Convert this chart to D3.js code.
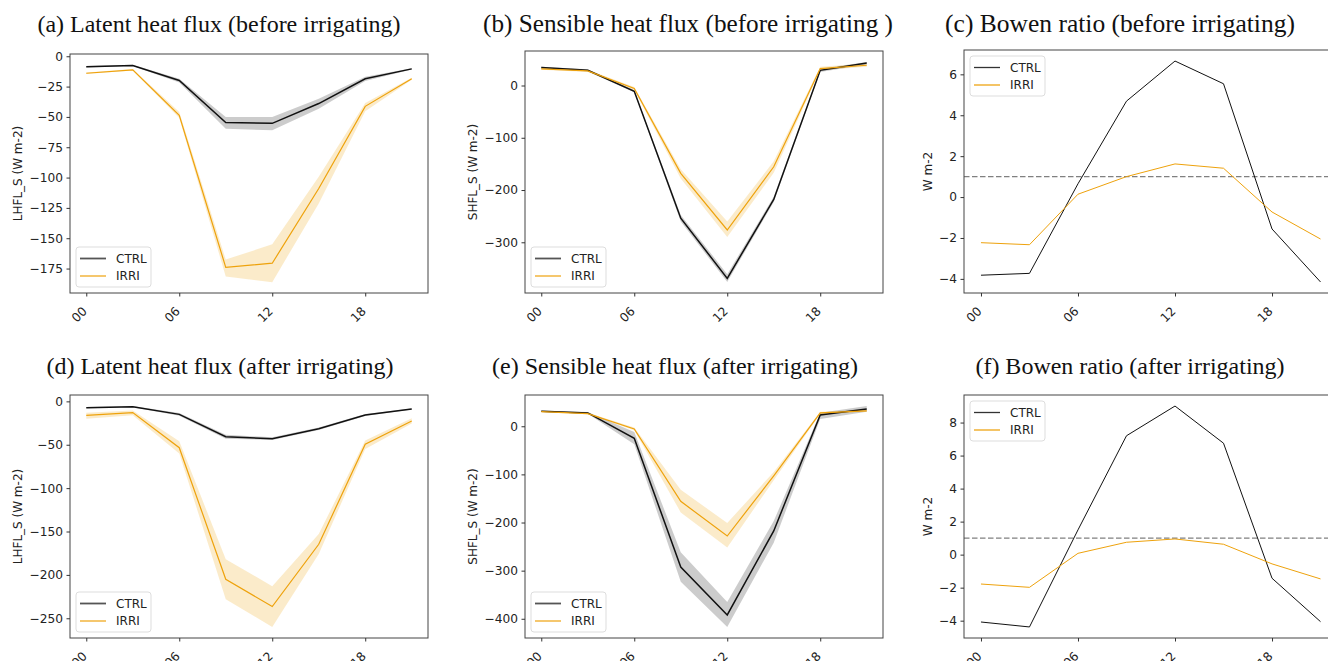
<!DOCTYPE html>
<html>
<head>
<meta charset="utf-8">
<script src="https://cdn.jsdelivr.net/npm/d3@7"></script>
<style>
  body { margin: 0; background: #fff; }
  svg { display: block; }
  .tick text { font-family: "DejaVu Sans", sans-serif; font-size: 12.2px; fill: #222; }
  .ylab { font-family: "DejaVu Sans", sans-serif; font-size: 12px; fill: #222; }
  .title { font-family: "Liberation Serif", "Times New Roman", serif; fill: #111; }
  .leg text { font-family: "DejaVu Sans", sans-serif; font-size: 12px; fill: #222; }
</style>
</head>
<body>
<script>

	// hours of the day (3-hourly)
	var hours = [0, 3, 6, 9, 12, 15, 18, 21];
	var xTickVals = [0, 6, 12, 18];
	var xTickLabels = ["00", "06", "12", "18"];

	// (a) latent heat flux, before irrigating
	var aCtrl   = [-8.7, -7.6, -20, -54.7, -55.3, -39, -18.6, -10.4];
	var aCtrlLo = [-9.3, -8.1, -21.6, -59.7, -61, -43.2, -20.5, -11];
	var aCtrlHi = [-8.1, -7.1, -18.5, -50.1, -50.1, -35, -17, -9.8];
	var aIrri   = [-14, -11.2, -48.7, -174, -170.6, -109, -41.3, -18.6];
	var aIrriLo = [-14.6, -11.8, -51, -181.5, -186.2, -121.3, -45.4, -19.4];
	var aIrriHi = [-13.4, -10.6, -46, -167.6, -155, -99.4, -38.5, -17.8];

	// (b) sensible heat flux, before irrigating
	var bCtrl   = [34.4, 29, -10.9, -254, -369, -218, 29, 43];
	var bCtrlLo = [32.5, 27, -13, -260, -376, -223, 26, 40];
	var bCtrlHi = [36, 31, -9, -248, -361, -213, 32, 45];
	var bIrri   = [31.8, 28, -5.8, -168, -276.5, -155.5, 32.5, 38.8];
	var bIrriLo = [30, 26, -8.5, -178, -290, -167, 29, 36];
	var bIrriHi = [33.5, 30, -3, -160, -260, -145, 36, 42];

	// (c) bowen ratio, before irrigating
	var cCtrl = [-3.82, -3.73, 0.65, 4.69, 6.65, 5.54, -1.56, -4.15];
	var cIrri = [-2.23, -2.33, 0.14, 1.0, 1.62, 1.41, -0.73, -2.05];

	// (d) latent heat flux, after irrigating
	var dCtrl   = [-7.3, -6.1, -15, -40.7, -43, -31.5, -15.8, -8.8];
	var dCtrlLo = [-8, -6.8, -16.5, -43, -44.5, -33, -17, -9.5];
	var dCtrlHi = [-6.6, -5.4, -13.5, -38.5, -41.5, -30, -14.6, -8.1];
	var dIrri   = [-16.1, -13, -53.4, -205, -236.5, -164.7, -49.5, -22.7];
	var dIrriLo = [-20, -16, -60, -228, -260, -176, -55, -25.5];
	var dIrriHi = [-13, -10.5, -46, -182, -213, -153, -45, -19.5];

	// (e) sensible heat flux, after irrigating
	var eCtrl   = [31, 27.7, -25, -292.5, -392, -217.5, 23.5, 36];
	var eCtrlLo = [29.5, 26, -37.5, -323, -417, -242, 15, 30];
	var eCtrlHi = [32.5, 29.5, -12, -262, -365, -197, 28, 42];
	var eIrri   = [30.4, 26.3, -5.6, -156, -228, -103, 27.7, 32];
	var eIrriLo = [29, 25, -8.5, -179, -252, -112, 25.5, 30];
	var eIrriHi = [32, 28, -2.5, -132, -201, -95, 30, 34.5];

	// (f) bowen ratio, after irrigating
	var fCtrl = [-4.08, -4.38, 1.5, 7.2, 9.0, 6.75, -1.43, -4.06];
	var fIrri = [-1.78, -1.98, 0.08, 0.75, 0.95, 0.63, -0.56, -1.47];

	var yTicksA = [-175, -150, -125, -100, -75, -50, -25, 0];
	var yTicksB = [-300, -200, -100, 0];
	var yTicksC = [-4, -2, 0, 2, 4, 6];
	var yTicksD = [-250, -200, -150, -100, -50, 0];
	var yTicksE = [-400, -300, -200, -100, 0];
	var yTicksF = [-4, -2, 0, 2, 4, 6, 8];

	var seriesNames = ["CTRL", "IRRI"];

	var width = 1328, height = 661;
	var orange = "#eea20c";

	var panels = [
		{ title: "(a) Latent heat flux (before irrigating)", tx: 219, ty: 32, fs: 24, box: [70, 54, 428, 293],
		  ylab: "LHFL_S (W m-2)", ylx: 18, ticks: yTicksA, ctrl: [aCtrl, aCtrlLo, aCtrlHi], irri: [aIrri, aIrriLo, aIrriHi], leg: "lower" },
		{ title: "(b) Sensible heat flux (before irrigating )", tx: 688, ty: 32, fs: 25.2, box: [525, 51, 883, 293],
		  ylab: "SHFL_S (W m-2)", ylx: 473, ticks: yTicksB, ctrl: [bCtrl, bCtrlLo, bCtrlHi], irri: [bIrri, bIrriLo, bIrriHi], leg: "lower" },
		{ title: "(c) Bowen ratio (before irrigating)", tx: 1120, ty: 32, fs: 25.5, box: [964, 50, 1337.5, 293],
		  ylab: "W m-2", ylx: 928, ticks: yTicksC, ctrl: [cCtrl], irri: [cIrri], leg: "upper", ref: 1 },
		{ title: "(d) Latent heat flux (after irrigating)", tx: 220, ty: 374, fs: 24, box: [70, 395, 428, 638],
		  ylab: "LHFL_S (W m-2)", ylx: 18, ticks: yTicksD, ctrl: [dCtrl, dCtrlLo, dCtrlHi], irri: [dIrri, dIrriLo, dIrriHi], leg: "lower" },
		{ title: "(e) Sensible heat flux (after irrigating)", tx: 675, ty: 374, fs: 24, box: [525, 395, 883, 638],
		  ylab: "SHFL_S (W m-2)", ylx: 473, ticks: yTicksE, ctrl: [eCtrl, eCtrlLo, eCtrlHi], irri: [eIrri, eIrriLo, eIrriHi], leg: "lower" },
		{ title: "(f) Bowen ratio (after irrigating)", tx: 1130, ty: 374, fs: 24, box: [964, 395, 1337.5, 638],
		  ylab: "W m-2", ylx: 928, ticks: yTicksF, ctrl: [fCtrl], irri: [fIrri], leg: "upper", ref: 1 }
	];

	var svg = d3.select("body").append("svg")
		.attr("width", width)
		.attr("height", height);

	panels.forEach(function(p) { drawPanel(p); });

	function drawPanel(p) {
		var x0 = p.box[0], y0 = p.box[1], x1 = p.box[2], y1 = p.box[3];
		var hasBand = p.ctrl.length > 1;

		// y limits like matplotlib: data extent + 5% margin
		var all = d3.merge(p.ctrl.concat(p.irri));
		var lo = d3.min(all), hi = d3.max(all), pad = (hi - lo) * 0.05;

		var x = d3.scaleLinear().domain([-1.05, 22.05]).range([x0, x1]);
		var y = d3.scaleLinear().domain([lo - pad, hi + pad]).range([y1, y0]);

		var g = svg.append("g");

		var line = d3.line().x(function(d, i) { return x(hours[i]); }).y(function(d) { return y(d); });
		var area = d3.area()
			.x(function(d) { return x(hours[d.i]); })
			.y0(function(d) { return y(d.lo); })
			.y1(function(d) { return y(d.hi); });

		function bandData(s) {
			return s[0].map(function(v, i) { return { i: i, lo: s[1][i], hi: s[2][i] }; });
		}

		if (hasBand) {
			g.append("path").datum(bandData(p.ctrl)).attr("d", area).attr("fill", "#000").attr("fill-opacity", 0.2);
			g.append("path").datum(bandData(p.irri)).attr("d", area).attr("fill", orange).attr("fill-opacity", 0.22);
		}

		if (p.ref !== undefined) {
			g.append("line")
				.attr("x1", x0).attr("x2", x1)
				.attr("y1", y(p.ref)).attr("y2", y(p.ref))
				.attr("stroke", "#808080").attr("stroke-width", 1.4)
				.attr("stroke-dasharray", "5.5,2.5");
		}

		var lw = hasBand ? 1.5 : 1;
		g.append("path").datum(p.ctrl[0]).attr("d", line)
			.attr("fill", "none").attr("stroke", "#111").attr("stroke-width", lw);
		g.append("path").datum(p.irri[0]).attr("d", line)
			.attr("fill", "none").attr("stroke", orange).attr("stroke-width", hasBand ? 1.2 : 1);

		// frame
		g.append("rect")
			.attr("x", x0).attr("y", y0)
			.attr("width", x1 - x0).attr("height", y1 - y0)
			.attr("fill", "none").attr("stroke", "#444").attr("stroke-width", 1);

		// y axis
		var yAxis = d3.axisLeft(y).tickValues(p.ticks).tickSizeOuter(0).tickSize(3.5).tickPadding(3.5)
			.tickFormat(function(d) { return d < 0 ? "\u2212" + Math.abs(d) : d; });
		var ya = g.append("g").attr("transform", "translate(" + x0 + ",0)").call(yAxis);
		ya.select(".domain").remove();
		ya.selectAll(".tick line").attr("stroke", "#333");

		// x axis with rotated labels
		var xAxis = d3.axisBottom(x).tickValues(xTickVals).tickSizeOuter(0).tickSize(3.5)
			.tickFormat(function(d, i) { return xTickLabels[i]; });
		var xa = g.append("g").attr("transform", "translate(0," + y1 + ")").call(xAxis);
		xa.select(".domain").remove();
		xa.selectAll(".tick line").attr("stroke", "#333");
		xa.selectAll(".tick text")
			.attr("y", 0).attr("dy", 0)
			.attr("text-anchor", "end")
			.attr("transform", "translate(1,19) rotate(-45)");

		// y label
		g.append("text").attr("class", "ylab")
			.attr("transform", "translate(" + p.ylx + "," + ((y0 + y1) / 2) + ") rotate(-90)")
			.attr("text-anchor", "middle")
			.attr("dy", "0.35em")
			.text(p.ylab);

		// title
		g.append("text").attr("class", "title")
			.attr("x", p.tx).attr("y", p.ty)
			.attr("text-anchor", "middle")
			.style("font-size", p.fs + "px")
			.text(p.title);

		// legend
		var lx = x0 + 6, lh = 40, lwid = 75;
		var ly = p.leg == "upper" ? y0 + 6 : y1 - 6 - lh;
		var leg = g.append("g").attr("class", "leg").attr("transform", "translate(" + lx + "," + ly + ")");
		leg.append("rect").attr("width", lwid).attr("height", lh).attr("rx", 3)
			.attr("fill", "#fff").attr("fill-opacity", 0.8).attr("stroke", "#ddd").attr("stroke-width", 1);
		var legColors = hasBand ? ["#555", orange] : ["#333", "#f2b640"];
		var legWidths = hasBand ? [1.8, 1.2] : [1.3, 1.6];
		seriesNames.forEach(function(name, i) {
			var yy = 11.5 + i * 17.5;
			leg.append("line").attr("x1", 4).attr("x2", 30).attr("y1", yy).attr("y2", yy)
				.attr("stroke", legColors[i]).attr("stroke-width", legWidths[i]);
			leg.append("text").attr("x", 40).attr("y", yy).attr("dy", "0.36em").text(name);
		});
	}

</script>
</body>
</html>
